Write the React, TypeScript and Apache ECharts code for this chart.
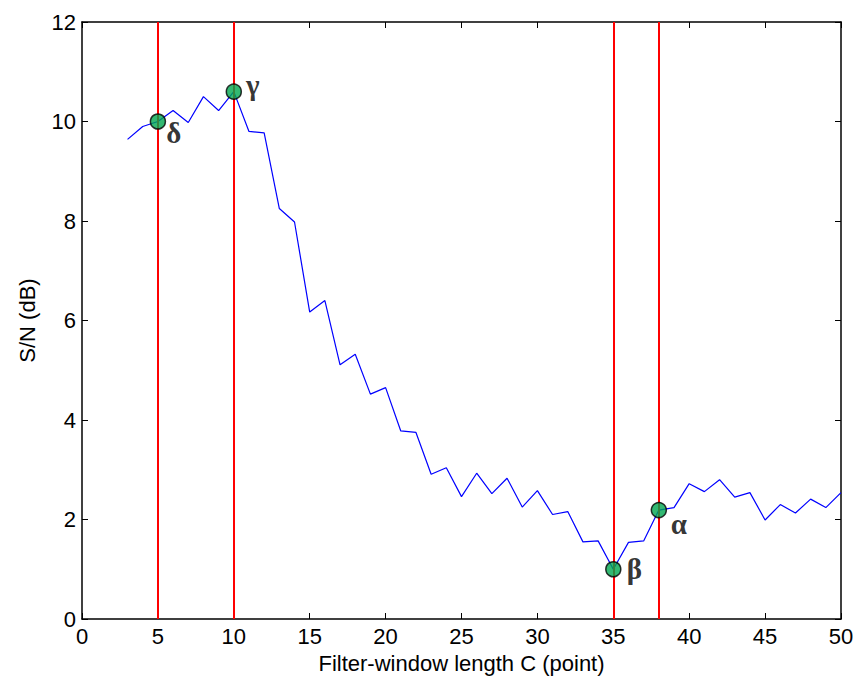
import React, { useEffect, useRef } from "react";
import * as echarts from "echarts";

const windowLengths = [3, 4, 5, 6, 7, 8, 9, 10, 11, 12, 13, 14, 15, 16, 17, 18, 19, 20, 21, 22, 23, 24, 25, 26, 27, 28, 29, 30, 31, 32, 33, 34, 35, 36, 37, 38, 39, 40, 41, 42, 43, 44, 45, 46, 47, 48, 49, 50];
const snrValues = [9.64, 9.9, 10.0, 10.22, 9.98, 10.5, 10.22, 10.6, 9.8, 9.77, 8.25, 7.98, 6.17, 6.4, 5.11, 5.32, 4.52, 4.65, 3.78, 3.75, 2.91, 3.04, 2.46, 2.93, 2.52, 2.83, 2.25, 2.58, 2.1, 2.16, 1.55, 1.57, 1.0, 1.54, 1.57, 2.19, 2.24, 2.72, 2.56, 2.8, 2.45, 2.54, 1.99, 2.3, 2.13, 2.41, 2.24, 2.54];
const markedX = [5, 10, 35, 38];
const markedY = [10.0, 10.6, 1.0, 2.19];
const markedNames = ["δ", "γ", "β", "α"];
const labelOffsets = [[16, 11], [19, -7], [21, 0], [20, 14]];
const xTicks = [0, 5, 10, 15, 20, 25, 30, 35, 40, 45, 50];
const yTicks = [0, 2, 4, 6, 8, 10, 12];

export default function App() {
  const ref = useRef<HTMLDivElement>(null);
  useEffect(() => {
    if (!ref.current) return;
    document.body.style.margin = "0";
    document.body.style.overflow = "hidden";
    const chart = echarts.init(ref.current, null, { renderer: "svg" });
    const font = "'Liberation Sans', Arial, sans-serif";
    const axisCommon = {
      axisLine: { show: true, onZero: false, lineStyle: { color: "#000", width: 1.5 } },
      axisTick: { show: true, inside: true, length: 6, lineStyle: { color: "#000", width: 1 } },
      splitLine: { show: false },
    };
    chart.setOption({
      animation: false,
      backgroundColor: "#fff",
      grid: { left: 82, right: 16, top: 22, bottom: 60, containLabel: false },
      xAxis: [
        {
          type: "value",
          min: xTicks[0],
          max: xTicks[xTicks.length - 1],
          interval: 5,
          name: "Filter-window length C (point)",
          nameLocation: "middle",
          nameGap: 33,
          nameTextStyle: { fontFamily: font, fontSize: 22, color: "#000" },
          axisLabel: { fontFamily: font, fontSize: 22, color: "#000", margin: 6 },
          ...axisCommon,
        },
        {
          type: "value",
          position: "top",
          min: xTicks[0],
          max: xTicks[xTicks.length - 1],
          interval: 5,
          axisLabel: { show: false },
          ...axisCommon,
        },
      ],
      yAxis: [
        {
          type: "value",
          min: yTicks[0],
          max: yTicks[yTicks.length - 1],
          interval: 2,
          name: "S/N (dB)",
          nameLocation: "middle",
          nameGap: 44,
          nameTextStyle: { fontFamily: font, fontSize: 22, color: "#000" },
          axisLabel: { fontFamily: font, fontSize: 22, color: "#000", margin: 6 },
          ...axisCommon,
        },
        {
          type: "value",
          position: "right",
          min: yTicks[0],
          max: yTicks[yTicks.length - 1],
          interval: 2,
          axisLabel: { show: false },
          ...axisCommon,
        },
      ],
      series: [
        {
          type: "line",
          data: windowLengths.map((x, i) => [x, snrValues[i]]),
          showSymbol: false,
          lineStyle: { color: "#0000ff", width: 1.2 },
          z: 3,
          markLine: {
            silent: true,
            symbol: "none",
            label: { show: false },
            lineStyle: { color: "#ff0000", width: 2, type: "solid" },
            data: markedX.map((x) => ({ xAxis: x })),
          },
        },
        {
          type: "scatter",
          data: markedX.map((x, i) => ({
            value: [x, markedY[i]],
            label: {
              show: true,
              formatter: markedNames[i],
              position: "inside",
              offset: labelOffsets[i],
              fontFamily: "'Liberation Serif', 'Times New Roman', serif",
              fontWeight: "bold",
              fontSize: 29,
              color: "#000",
            },
          })),
          symbol: "circle",
          symbolSize: 15,
          itemStyle: { color: "#00a64f", borderColor: "#000", borderWidth: 1.5 },
          z: 5,
        },
      ],
    });
    return () => chart.dispose();
  }, []);
  return <div ref={ref} style={{ position: "absolute", left: 0, top: 0, width: 857, height: 679 }} />;
}
